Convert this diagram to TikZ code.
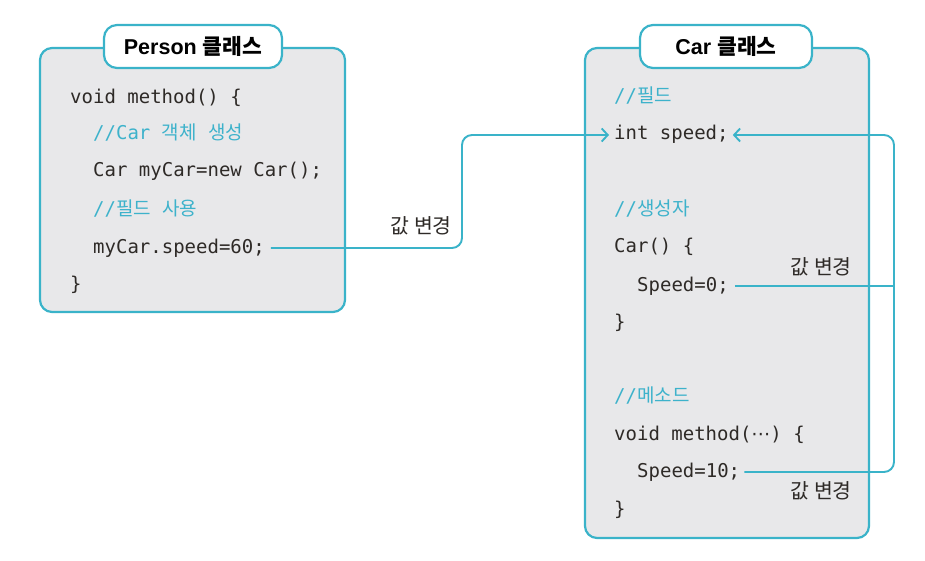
\documentclass[tikz,border=0pt]{standalone}
\usepackage{fontspec}
\setmainfont{Liberation Sans}
\setmonofont{DejaVu Sans Mono}
\newfontfamily\krfont{Noto Sans CJK KR}
\newfontfamily\symfont{DejaVu Sans}
\usetikzlibrary{arrows.meta}

\definecolor{boxline}{HTML}{3AB3C9}
\definecolor{boxfill}{HTML}{E8E8EA}
\definecolor{codetext}{HTML}{2E2A27}
\definecolor{remarktext}{HTML}{3DB2CB}
\newcommand{\kr}[1]{{\krfont #1}}

\tikzset{
	classbox/.style={draw=boxline, fill=boxfill, line width=2.2pt, rounded corners=12pt, inner sep=0pt},
	tabbox/.style={draw=boxline, fill=white, line width=2.2pt, rounded corners=13pt, inner sep=0pt, minimum height=43pt, font=\bfseries\fontsize{21.5}{23}\selectfont},
	code/.style={anchor=west, inner sep=0pt, text height=14pt, text depth=4pt, text=codetext, font=\ttfamily\fontsize{19}{21}\selectfont},
	remark/.style={code, text=remarktext},
	link/.style={draw=boxline, line width=1.9pt, rounded corners=10pt},
	into/.style={-{Straight Barb[length=6pt,width=13pt,line width=1.9pt]}},
	change/.style={anchor=east, inner sep=0pt, text=codetext, font=\krfont\fontsize{20.5}{22}\selectfont}
}

\begin{document}
\begin{tikzpicture}[x=1pt,y=-1pt]

		\useasboundingbox (0,0) rectangle (925,561);

		\node[classbox, minimum width=305pt, minimum height=264pt] (personbox) at (192.5,180) {};
		\node[tabbox, minimum width=178pt] (persontab) at (193,46.5) {Person \kr{\bfseries 클래스}};

		\node[classbox, minimum width=284pt, minimum height=490pt] (carbox) at (727,293) {};
		\node[tabbox, minimum width=172pt] (cartab) at (726,46.5) {Car \kr{\bfseries 클래스}};

		\node[code] (pvoid) at (70,99) {void method() \{};
		\node[remark] (pnew) at (93,135) {//Car \kr{객체} \kr{생성}};
		\node[code] (pcar) at (93,172) {Car myCar=new Car();};
		\node[remark] (pfield) at (93,210) {//\kr{필드} \kr{사용}};
		\node[code] (p60) at (93,248) {myCar.speed=60;};
		\node[code] (pend) at (70,285) {\}};

		\node[remark] (cfield) at (614,98) {//\kr{필드}};
		\node[code] (cspeed) at (614,135) {int speed;};
		\node[remark] (cctor) at (614,210) {//\kr{생성자}};
		\node[code] (cctorhead) at (614,247) {Car() \{};
		\node[code] (cs0) at (637,286) {Speed=0;};
		\node[code] (cctorend) at (614,323) {\}};
		\node[remark] (cmeth) at (614,397) {//\kr{메소드}};
		\node[code] (cmethhead) at (614,435) {void method({\symfont ⋯}) \{};
		\node[code] (cs10) at (637,472) {Speed=10;};
		\node[code] (cmethend) at (614,510) {\}};

		\coordinate (bend) at (462,0);
		\coordinate (rail) at (894,0);

		\draw[link, into] ([xshift=6pt]p60.east) -| (bend |- cspeed.west) -- ([xshift=-5pt]cspeed.west);
		\draw[link, into] ([xshift=4pt]cs10.east) -| (rail |- cspeed.east) -- ([xshift=4pt]cspeed.east);
		\draw[link] ([xshift=6pt]cs0.east) -- (rail |- cs0.east);

		\node[change] (change1) at (452,226) {값 변경};
		\node[change] (change2) at (852,267) {값 변경};
		\node[change] (change3) at (852,491) {값 변경};

	\end{tikzpicture}
\end{document}
